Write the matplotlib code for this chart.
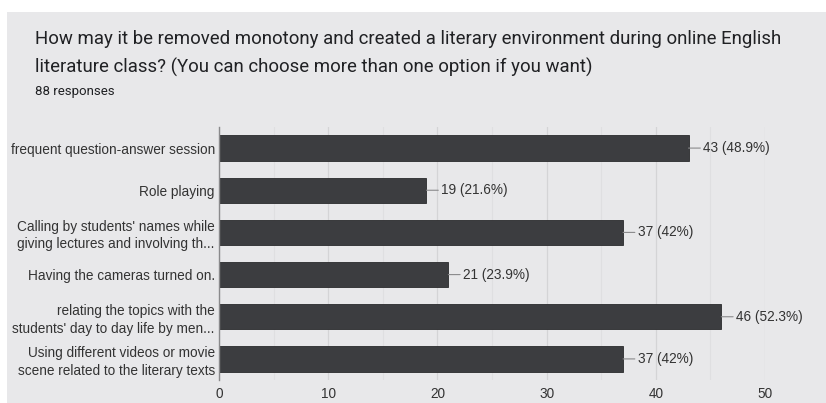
import matplotlib
matplotlib.use("Agg")
import matplotlib.pyplot as plt
from matplotlib.ticker import MultipleLocator

title_lines = ["How may it be removed monotony and created a literary environment during online English",
               "literature class? (You can choose more than one option if you want)"]
subtitle = "88 responses"
categories = [
    "frequent question-answer session",
    "Role playing",
    "Calling by students' names while\ngiving lectures and involving th...",
    "Having the cameras turned on.",
    "relating the topics with the\nstudents' day to day life by men...",
    "Using different videos or movie\nscene related to the literary texts",
]
counts = [43, 19, 37, 21, 46, 37]
pct_labels = ["43 (48.9%)", "19 (21.6%)", "37 (42%)", "21 (23.9%)", "46 (52.3%)", "37 (42%)"]
xticks = [0, 10, 20, 30, 40, 50]

BG = "#e8e8ea"
BAR = "#3c3d40"
TXT = "#333333"

fig = plt.figure(figsize=(8.26, 4.03), dpi=100)
fig.patch.set_facecolor("white")
panel = plt.Rectangle((7 / 826, 0), 1, 1 - 12 / 403, transform=fig.transFigure,
                      facecolor=BG, edgecolor="none", zorder=-10)
fig.patches.append(panel)

fig.text(35 / 826, 1 - 39 / 403, title_lines[0], fontsize=13.4, family="Roboto",
         color="#202124", va="center", ha="left")
fig.text(35 / 826, 1 - 67 / 403, title_lines[1], fontsize=13.4, family="Roboto",
         color="#202124", va="center", ha="left")
fig.text(35 / 826, 1 - 91 / 403, subtitle, fontsize=9.5, family="Roboto",
         color="#202124", va="center", ha="left")

ax = fig.add_axes([219 / 826, 23 / 403, (765 - 219) / 826, (380 - 127) / 403])
ax.set_facecolor(BG)
y = list(range(len(categories)))
ax.barh(y, counts, height=0.6, color=BAR, edgecolor="#2a2a2c", linewidth=0.6, zorder=3)
ax.set_ylim(len(categories) - 0.5, -0.5)
ax.set_xlim(0, 50)
ax.set_yticks(y)
ax.set_yticklabels(categories, fontsize=9.8, family="Liberation Sans", color=TXT,
                   linespacing=1.3)
ax.set_xticks(xticks)
ax.set_xticklabels([str(t) for t in xticks], fontsize=9.8, family="Liberation Sans", color=TXT)
ax.xaxis.set_minor_locator(MultipleLocator(5))
ax.grid(axis="x", which="major", color="#d4d4d6", linewidth=0.9, zorder=0)
ax.grid(axis="x", which="minor", color="#dfdfe1", linewidth=0.8, zorder=0)
ax.tick_params(axis="both", which="both", length=0, pad=3)
ax.tick_params(axis="x", pad=5)
for s in ["top", "right", "bottom"]:
    ax.spines[s].set_visible(False)
ax.spines["left"].set_color("#8a8a8c")
ax.spines["left"].set_linewidth(1.0)
ax.spines["left"].set_zorder(4)

for yi, v, lab in zip(y, counts, pct_labels):
    ax.annotate(lab, xy=(v, yi), xytext=(10.5, 0), textcoords="offset points",
                ha="left", va="center", fontsize=9.8, family="Liberation Sans", color=TXT,
                arrowprops=dict(arrowstyle="-", color="#8a8a8c", lw=0.8,
                                shrinkA=0, shrinkB=0, relpos=(0, 0.5)))

fig.savefig("out.png", dpi=100, facecolor=fig.get_facecolor())
